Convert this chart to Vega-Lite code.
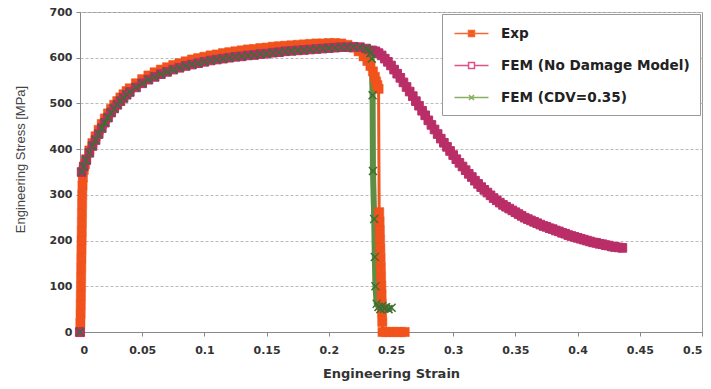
{
"$schema": "https://vega.github.io/schema/vega-lite/v6.json",
"width": 622, "height": 320,
"autosize": {"type": "none"},
"padding": {"left": 80, "top": 12, "right": 9, "bottom": 57},
"background": "white",
"config": {"font": "Liberation Sans", "view": {"stroke": "#999", "strokeWidth": 1}},
"data": {"values": [
{"s":"Exp","x":0,"y":0},{"s":"Exp","x":0.0003,"y":20},{"s":"Exp","x":0.0005,"y":40},{"s":"Exp","x":0.0006,"y":60},{"s":"Exp","x":0.0007,"y":80},{"s":"Exp","x":0.0008,"y":100},{"s":"Exp","x":0.0009,"y":120},{"s":"Exp","x":0.001,"y":140},{"s":"Exp","x":0.0011,"y":160},{"s":"Exp","x":0.0012,"y":180},{"s":"Exp","x":0.0013,"y":200},{"s":"Exp","x":0.0014,"y":220},{"s":"Exp","x":0.0015,"y":240},{"s":"Exp","x":0.0016,"y":260},{"s":"Exp","x":0.0017,"y":280},{"s":"Exp","x":0.0018,"y":300},{"s":"Exp","x":0.002,"y":320},{"s":"Exp","x":0.0023,"y":338},{"s":"Exp","x":0.003,"y":355},{"s":"Exp","x":0.004,"y":367},{"s":"Exp","x":0.005,"y":378},{"s":"Exp","x":0.0075,"y":397},{"s":"Exp","x":0.01,"y":413},{"s":"Exp","x":0.0125,"y":428},{"s":"Exp","x":0.015,"y":442},{"s":"Exp","x":0.0175,"y":455},{"s":"Exp","x":0.02,"y":467},{"s":"Exp","x":0.0225,"y":478},{"s":"Exp","x":0.025,"y":488},{"s":"Exp","x":0.0275,"y":497},{"s":"Exp","x":0.03,"y":505},{"s":"Exp","x":0.0325,"y":513},{"s":"Exp","x":0.035,"y":520},{"s":"Exp","x":0.0375,"y":527},{"s":"Exp","x":0.04,"y":533},{"s":"Exp","x":0.045,"y":544},{"s":"Exp","x":0.05,"y":553},{"s":"Exp","x":0.055,"y":561},{"s":"Exp","x":0.06,"y":568},{"s":"Exp","x":0.065,"y":574},{"s":"Exp","x":0.07,"y":579},{"s":"Exp","x":0.075,"y":584},{"s":"Exp","x":0.08,"y":588},{"s":"Exp","x":0.085,"y":592},{"s":"Exp","x":0.09,"y":596},{"s":"Exp","x":0.095,"y":599},{"s":"Exp","x":0.1,"y":602},{"s":"Exp","x":0.105,"y":605},{"s":"Exp","x":0.11,"y":607},{"s":"Exp","x":0.115,"y":610},{"s":"Exp","x":0.12,"y":612},{"s":"Exp","x":0.125,"y":614},{"s":"Exp","x":0.13,"y":616},{"s":"Exp","x":0.135,"y":618},{"s":"Exp","x":0.14,"y":619},{"s":"Exp","x":0.145,"y":621},{"s":"Exp","x":0.15,"y":622},{"s":"Exp","x":0.155,"y":624},{"s":"Exp","x":0.16,"y":625},{"s":"Exp","x":0.165,"y":626},{"s":"Exp","x":0.17,"y":627},{"s":"Exp","x":0.175,"y":628},{"s":"Exp","x":0.18,"y":629},{"s":"Exp","x":0.185,"y":630},{"s":"Exp","x":0.19,"y":631},{"s":"Exp","x":0.195,"y":631},{"s":"Exp","x":0.2,"y":632},{"s":"Exp","x":0.205,"y":632},{"s":"Exp","x":0.21,"y":631},{"s":"Exp","x":0.215,"y":628},{"s":"Exp","x":0.22,"y":622},{"s":"Exp","x":0.224,"y":614},{"s":"Exp","x":0.228,"y":603},{"s":"Exp","x":0.231,"y":593},{"s":"Exp","x":0.2335,"y":582},{"s":"Exp","x":0.2355,"y":570},{"s":"Exp","x":0.237,"y":558},{"s":"Exp","x":0.238,"y":548},{"s":"Exp","x":0.239,"y":540},{"s":"Exp","x":0.24,"y":532},{"s":"Exp","x":0.2405,"y":262},{"s":"Exp","x":0.2408,"y":242},{"s":"Exp","x":0.241,"y":222},{"s":"Exp","x":0.2412,"y":202},{"s":"Exp","x":0.2414,"y":182},{"s":"Exp","x":0.2416,"y":162},{"s":"Exp","x":0.2418,"y":142},{"s":"Exp","x":0.242,"y":122},{"s":"Exp","x":0.2422,"y":102},{"s":"Exp","x":0.2424,"y":82},{"s":"Exp","x":0.2426,"y":62},{"s":"Exp","x":0.2428,"y":42},{"s":"Exp","x":0.243,"y":22},{"s":"Exp","x":0.2432,"y":0},{"s":"Exp","x":0.246,"y":0},{"s":"Exp","x":0.249,"y":0},{"s":"Exp","x":0.252,"y":0},{"s":"Exp","x":0.255,"y":0},{"s":"Exp","x":0.258,"y":0},{"s":"Exp","x":0.261,"y":0},
{"s":"FEM (No Damage Model)","x":0,"y":0},{"s":"FEM (No Damage Model)","x":0.0013,"y":350},{"s":"FEM (No Damage Model)","x":0.003,"y":362},{"s":"FEM (No Damage Model)","x":0.005,"y":376},{"s":"FEM (No Damage Model)","x":0.0075,"y":392},{"s":"FEM (No Damage Model)","x":0.01,"y":407},{"s":"FEM (No Damage Model)","x":0.0125,"y":420},{"s":"FEM (No Damage Model)","x":0.015,"y":433},{"s":"FEM (No Damage Model)","x":0.0175,"y":446},{"s":"FEM (No Damage Model)","x":0.02,"y":458},{"s":"FEM (No Damage Model)","x":0.0225,"y":469},{"s":"FEM (No Damage Model)","x":0.025,"y":480},{"s":"FEM (No Damage Model)","x":0.0275,"y":489},{"s":"FEM (No Damage Model)","x":0.03,"y":497},{"s":"FEM (No Damage Model)","x":0.0325,"y":505},{"s":"FEM (No Damage Model)","x":0.035,"y":512},{"s":"FEM (No Damage Model)","x":0.0375,"y":519},{"s":"FEM (No Damage Model)","x":0.04,"y":525},{"s":"FEM (No Damage Model)","x":0.045,"y":535},{"s":"FEM (No Damage Model)","x":0.05,"y":544},{"s":"FEM (No Damage Model)","x":0.055,"y":552},{"s":"FEM (No Damage Model)","x":0.06,"y":558},{"s":"FEM (No Damage Model)","x":0.065,"y":564},{"s":"FEM (No Damage Model)","x":0.07,"y":569},{"s":"FEM (No Damage Model)","x":0.075,"y":574},{"s":"FEM (No Damage Model)","x":0.08,"y":578},{"s":"FEM (No Damage Model)","x":0.085,"y":582},{"s":"FEM (No Damage Model)","x":0.09,"y":585},{"s":"FEM (No Damage Model)","x":0.095,"y":588},{"s":"FEM (No Damage Model)","x":0.1,"y":591},{"s":"FEM (No Damage Model)","x":0.105,"y":594},{"s":"FEM (No Damage Model)","x":0.11,"y":596},{"s":"FEM (No Damage Model)","x":0.115,"y":598},{"s":"FEM (No Damage Model)","x":0.12,"y":600},{"s":"FEM (No Damage Model)","x":0.125,"y":602},{"s":"FEM (No Damage Model)","x":0.13,"y":603},{"s":"FEM (No Damage Model)","x":0.135,"y":605},{"s":"FEM (No Damage Model)","x":0.14,"y":606},{"s":"FEM (No Damage Model)","x":0.145,"y":608},{"s":"FEM (No Damage Model)","x":0.15,"y":609},{"s":"FEM (No Damage Model)","x":0.155,"y":611},{"s":"FEM (No Damage Model)","x":0.16,"y":612},{"s":"FEM (No Damage Model)","x":0.165,"y":614},{"s":"FEM (No Damage Model)","x":0.17,"y":615},{"s":"FEM (No Damage Model)","x":0.175,"y":616},{"s":"FEM (No Damage Model)","x":0.18,"y":617},{"s":"FEM (No Damage Model)","x":0.185,"y":618},{"s":"FEM (No Damage Model)","x":0.19,"y":619},{"s":"FEM (No Damage Model)","x":0.195,"y":620},{"s":"FEM (No Damage Model)","x":0.2,"y":621},{"s":"FEM (No Damage Model)","x":0.205,"y":622},{"s":"FEM (No Damage Model)","x":0.21,"y":623},{"s":"FEM (No Damage Model)","x":0.215,"y":623},{"s":"FEM (No Damage Model)","x":0.22,"y":624},{"s":"FEM (No Damage Model)","x":0.225,"y":623},{"s":"FEM (No Damage Model)","x":0.23,"y":620},{"s":"FEM (No Damage Model)","x":0.235,"y":616},{"s":"FEM (No Damage Model)","x":0.2375,"y":614},{"s":"FEM (No Damage Model)","x":0.24,"y":610},{"s":"FEM (No Damage Model)","x":0.2425,"y":605},{"s":"FEM (No Damage Model)","x":0.245,"y":598},{"s":"FEM (No Damage Model)","x":0.2475,"y":591},{"s":"FEM (No Damage Model)","x":0.25,"y":583},{"s":"FEM (No Damage Model)","x":0.2525,"y":574},{"s":"FEM (No Damage Model)","x":0.255,"y":565},{"s":"FEM (No Damage Model)","x":0.2575,"y":556},{"s":"FEM (No Damage Model)","x":0.26,"y":546},{"s":"FEM (No Damage Model)","x":0.2625,"y":536},{"s":"FEM (No Damage Model)","x":0.265,"y":526},{"s":"FEM (No Damage Model)","x":0.2675,"y":516},{"s":"FEM (No Damage Model)","x":0.27,"y":505},{"s":"FEM (No Damage Model)","x":0.2725,"y":495},{"s":"FEM (No Damage Model)","x":0.275,"y":484},{"s":"FEM (No Damage Model)","x":0.2775,"y":474},{"s":"FEM (No Damage Model)","x":0.28,"y":463},{"s":"FEM (No Damage Model)","x":0.2825,"y":453},{"s":"FEM (No Damage Model)","x":0.285,"y":443},{"s":"FEM (No Damage Model)","x":0.2875,"y":433},{"s":"FEM (No Damage Model)","x":0.29,"y":423},{"s":"FEM (No Damage Model)","x":0.2925,"y":414},{"s":"FEM (No Damage Model)","x":0.295,"y":405},{"s":"FEM (No Damage Model)","x":0.2975,"y":396},{"s":"FEM (No Damage Model)","x":0.3,"y":387},{"s":"FEM (No Damage Model)","x":0.3025,"y":378},{"s":"FEM (No Damage Model)","x":0.305,"y":370},{"s":"FEM (No Damage Model)","x":0.3075,"y":362},{"s":"FEM (No Damage Model)","x":0.31,"y":354},{"s":"FEM (No Damage Model)","x":0.3125,"y":346},{"s":"FEM (No Damage Model)","x":0.315,"y":339},{"s":"FEM (No Damage Model)","x":0.3175,"y":331},{"s":"FEM (No Damage Model)","x":0.32,"y":324},{"s":"FEM (No Damage Model)","x":0.3225,"y":317},{"s":"FEM (No Damage Model)","x":0.325,"y":311},{"s":"FEM (No Damage Model)","x":0.3275,"y":305},{"s":"FEM (No Damage Model)","x":0.33,"y":299},{"s":"FEM (No Damage Model)","x":0.3325,"y":293},{"s":"FEM (No Damage Model)","x":0.335,"y":288},{"s":"FEM (No Damage Model)","x":0.3375,"y":283},{"s":"FEM (No Damage Model)","x":0.34,"y":278},{"s":"FEM (No Damage Model)","x":0.3425,"y":274},{"s":"FEM (No Damage Model)","x":0.345,"y":270},{"s":"FEM (No Damage Model)","x":0.3475,"y":266},{"s":"FEM (No Damage Model)","x":0.35,"y":262},{"s":"FEM (No Damage Model)","x":0.3525,"y":258},{"s":"FEM (No Damage Model)","x":0.355,"y":254},{"s":"FEM (No Damage Model)","x":0.3575,"y":250},{"s":"FEM (No Damage Model)","x":0.36,"y":247},{"s":"FEM (No Damage Model)","x":0.3625,"y":244},{"s":"FEM (No Damage Model)","x":0.365,"y":241},{"s":"FEM (No Damage Model)","x":0.3675,"y":238},{"s":"FEM (No Damage Model)","x":0.37,"y":235},{"s":"FEM (No Damage Model)","x":0.3725,"y":232},{"s":"FEM (No Damage Model)","x":0.375,"y":230},{"s":"FEM (No Damage Model)","x":0.3775,"y":227},{"s":"FEM (No Damage Model)","x":0.38,"y":225},{"s":"FEM (No Damage Model)","x":0.3825,"y":222},{"s":"FEM (No Damage Model)","x":0.385,"y":220},{"s":"FEM (No Damage Model)","x":0.3875,"y":217},{"s":"FEM (No Damage Model)","x":0.39,"y":215},{"s":"FEM (No Damage Model)","x":0.3925,"y":212},{"s":"FEM (No Damage Model)","x":0.395,"y":210},{"s":"FEM (No Damage Model)","x":0.3975,"y":208},{"s":"FEM (No Damage Model)","x":0.4,"y":206},{"s":"FEM (No Damage Model)","x":0.4025,"y":204},{"s":"FEM (No Damage Model)","x":0.405,"y":202},{"s":"FEM (No Damage Model)","x":0.4075,"y":200},{"s":"FEM (No Damage Model)","x":0.41,"y":198},{"s":"FEM (No Damage Model)","x":0.4125,"y":196},{"s":"FEM (No Damage Model)","x":0.415,"y":195},{"s":"FEM (No Damage Model)","x":0.4175,"y":193},{"s":"FEM (No Damage Model)","x":0.42,"y":192},{"s":"FEM (No Damage Model)","x":0.4225,"y":190},{"s":"FEM (No Damage Model)","x":0.425,"y":189},{"s":"FEM (No Damage Model)","x":0.4275,"y":187},{"s":"FEM (No Damage Model)","x":0.43,"y":186},{"s":"FEM (No Damage Model)","x":0.433,"y":185},{"s":"FEM (No Damage Model)","x":0.436,"y":184},
{"s":"FEM (CDV=0.35)","x":0,"y":0},{"s":"FEM (CDV=0.35)","x":0.0013,"y":350},{"s":"FEM (CDV=0.35)","x":0.003,"y":362},{"s":"FEM (CDV=0.35)","x":0.005,"y":376},{"s":"FEM (CDV=0.35)","x":0.0075,"y":392},{"s":"FEM (CDV=0.35)","x":0.01,"y":407},{"s":"FEM (CDV=0.35)","x":0.0125,"y":420},{"s":"FEM (CDV=0.35)","x":0.015,"y":433},{"s":"FEM (CDV=0.35)","x":0.0175,"y":446},{"s":"FEM (CDV=0.35)","x":0.02,"y":458},{"s":"FEM (CDV=0.35)","x":0.0225,"y":469},{"s":"FEM (CDV=0.35)","x":0.025,"y":480},{"s":"FEM (CDV=0.35)","x":0.0275,"y":489},{"s":"FEM (CDV=0.35)","x":0.03,"y":497},{"s":"FEM (CDV=0.35)","x":0.0325,"y":505},{"s":"FEM (CDV=0.35)","x":0.035,"y":512},{"s":"FEM (CDV=0.35)","x":0.0375,"y":519},{"s":"FEM (CDV=0.35)","x":0.04,"y":525},{"s":"FEM (CDV=0.35)","x":0.045,"y":535},{"s":"FEM (CDV=0.35)","x":0.05,"y":544},{"s":"FEM (CDV=0.35)","x":0.055,"y":552},{"s":"FEM (CDV=0.35)","x":0.06,"y":558},{"s":"FEM (CDV=0.35)","x":0.065,"y":564},{"s":"FEM (CDV=0.35)","x":0.07,"y":569},{"s":"FEM (CDV=0.35)","x":0.075,"y":574},{"s":"FEM (CDV=0.35)","x":0.08,"y":578},{"s":"FEM (CDV=0.35)","x":0.085,"y":582},{"s":"FEM (CDV=0.35)","x":0.09,"y":585},{"s":"FEM (CDV=0.35)","x":0.095,"y":588},{"s":"FEM (CDV=0.35)","x":0.1,"y":591},{"s":"FEM (CDV=0.35)","x":0.105,"y":594},{"s":"FEM (CDV=0.35)","x":0.11,"y":596},{"s":"FEM (CDV=0.35)","x":0.115,"y":598},{"s":"FEM (CDV=0.35)","x":0.12,"y":600},{"s":"FEM (CDV=0.35)","x":0.125,"y":602},{"s":"FEM (CDV=0.35)","x":0.13,"y":603},{"s":"FEM (CDV=0.35)","x":0.135,"y":605},{"s":"FEM (CDV=0.35)","x":0.14,"y":606},{"s":"FEM (CDV=0.35)","x":0.145,"y":608},{"s":"FEM (CDV=0.35)","x":0.15,"y":609},{"s":"FEM (CDV=0.35)","x":0.155,"y":611},{"s":"FEM (CDV=0.35)","x":0.16,"y":612},{"s":"FEM (CDV=0.35)","x":0.165,"y":614},{"s":"FEM (CDV=0.35)","x":0.17,"y":615},{"s":"FEM (CDV=0.35)","x":0.175,"y":616},{"s":"FEM (CDV=0.35)","x":0.18,"y":617},{"s":"FEM (CDV=0.35)","x":0.185,"y":618},{"s":"FEM (CDV=0.35)","x":0.19,"y":619},{"s":"FEM (CDV=0.35)","x":0.195,"y":620},{"s":"FEM (CDV=0.35)","x":0.2,"y":621},{"s":"FEM (CDV=0.35)","x":0.205,"y":622},{"s":"FEM (CDV=0.35)","x":0.21,"y":623},{"s":"FEM (CDV=0.35)","x":0.215,"y":623},{"s":"FEM (CDV=0.35)","x":0.22,"y":624},{"s":"FEM (CDV=0.35)","x":0.225,"y":623},{"s":"FEM (CDV=0.35)","x":0.23,"y":620},{"s":"FEM (CDV=0.35)","x":0.232,"y":617},{"s":"FEM (CDV=0.35)","x":0.2335,"y":610},{"s":"FEM (CDV=0.35)","x":0.2345,"y":598},{"s":"FEM (CDV=0.35)","x":0.2352,"y":518},{"s":"FEM (CDV=0.35)","x":0.2355,"y":352},{"s":"FEM (CDV=0.35)","x":0.2365,"y":247},{"s":"FEM (CDV=0.35)","x":0.237,"y":164},{"s":"FEM (CDV=0.35)","x":0.2375,"y":100},{"s":"FEM (CDV=0.35)","x":0.2385,"y":62},{"s":"FEM (CDV=0.35)","x":0.24,"y":55},{"s":"FEM (CDV=0.35)","x":0.2415,"y":50},{"s":"FEM (CDV=0.35)","x":0.243,"y":57},{"s":"FEM (CDV=0.35)","x":0.2445,"y":51},{"s":"FEM (CDV=0.35)","x":0.246,"y":54},{"s":"FEM (CDV=0.35)","x":0.248,"y":50},{"s":"FEM (CDV=0.35)","x":0.2505,"y":53}
]},
"encoding": {
  "x": {"field": "x", "type": "quantitative",
    "scale": {"domain": [0, 0.5], "nice": false, "zero": false},
    "axis": {"title": "Engineering Strain", "values": [0,0.05,0.1,0.15,0.2,0.25,0.3,0.35,0.4,0.45,0.5], "format": ".2~f", "grid": false,
      "domainColor": "#888", "tickColor": "#888", "tickSize": 4, "labelFont": "DejaVu Sans", "labelFontSize": 11, "labelFontWeight": "bold", "labelColor": "#333", "labelPadding": 8,
      "titleFont": "DejaVu Sans", "titleFontSize": 13, "titleFontWeight": "bold", "titleColor": "#333", "titlePadding": 12}},
  "y": {"field": "y", "type": "quantitative",
    "scale": {"domain": [0, 700], "nice": false},
    "axis": {"title": "Engineering Stress [MPa]", "values": [0,100,200,300,400,500,600,700], "grid": true, "gridDash": [3,2], "gridColor": "#bbb",
      "domainColor": "#888", "tickColor": "#888", "tickSize": 4, "labelFont": "DejaVu Sans", "labelFontSize": 11, "labelFontWeight": "bold", "labelColor": "#333", "labelPadding": 4,
      "titleFont": "Liberation Sans", "titleFontSize": 13, "titleFontWeight": "normal", "titleColor": "#444", "titlePadding": 22, "titleY": 147}}
},
"layer": [
  {"mark": {"type": "line"},
   "encoding": {
     "color": {"field": "s", "type": "nominal", "legend": null,
       "scale": {"domain": ["Exp", "FEM (No Damage Model)", "FEM (CDV=0.35)"], "range": ["#F2581E", "#BA2E68", "#5E8E44"]}},
     "strokeWidth": {"field": "s", "type": "nominal", "legend": null,
       "scale": {"domain": ["Exp", "FEM (No Damage Model)", "FEM (CDV=0.35)"], "range": [3, 6, 1.6]}},
     "order": {"value": null}}},
  {"mark": {"type": "point", "opacity": 1},
   "encoding": {
     "fill": {"field": "s", "type": "nominal", "legend": null,
       "scale": {"domain": ["Exp", "FEM (No Damage Model)", "FEM (CDV=0.35)"], "range": ["#F2521C", "#BA2E68", "transparent"]}},
     "stroke": {"field": "s", "type": "nominal", "legend": null,
       "scale": {"domain": ["Exp", "FEM (No Damage Model)", "FEM (CDV=0.35)"], "range": ["#F2521C", "#BA2E68", "#3C6F32"]}},
     "shape": {"field": "s", "type": "nominal", "legend": null,
       "scale": {"domain": ["Exp", "FEM (No Damage Model)", "FEM (CDV=0.35)"], "range": ["square", "square", "M-1,-1L1,1M-1,1L1,-1"]}},
     "size": {"field": "s", "type": "nominal", "legend": null,
       "scale": {"domain": ["Exp", "FEM (No Damage Model)", "FEM (CDV=0.35)"], "range": [85, 64, 115]}},
     "strokeWidth": {"field": "s", "type": "nominal", "legend": null,
       "scale": {"domain": ["Exp", "FEM (No Damage Model)", "FEM (CDV=0.35)"], "range": [0.5, 1.5, 2.8]}}}},
  {"transform": [{"filter": "false"}],
   "mark": {"type": "point", "filled": true, "opacity": 1},
   "encoding": {
     "fill": {"field": "s", "type": "nominal",
       "scale": {"domain": ["Exp", "FEM (No Damage Model)", "FEM (CDV=0.35)"], "range": ["#F2521C", "white", "transparent"]},
       "legend": {"title": null, "orient": "top-right", "offset": 2, "padding": 10, "strokeColor": "#999", "fillColor": "white", "labelFont": "DejaVu Sans", "labelFontSize": 13.6, "labelFontWeight": "bold", "labelColor": "#222", "symbolSize": 289, "symbolStrokeWidth": 1.5, "symbolOffset": 10, "rowPadding": 15, "labelOffset": 20, "labelLimit": 300}},
     "stroke": {"field": "s", "type": "nominal",
       "scale": {"domain": ["Exp", "FEM (No Damage Model)", "FEM (CDV=0.35)"], "range": ["#F26A30", "#E0508A", "#8AB062"]},
       "legend": {"title": null, "orient": "top-right", "offset": 2, "padding": 10, "strokeColor": "#999", "fillColor": "white", "labelFont": "DejaVu Sans", "labelFontSize": 13.6, "labelFontWeight": "bold", "labelColor": "#222", "symbolSize": 289, "symbolStrokeWidth": 1.5, "symbolOffset": 10, "rowPadding": 15, "labelOffset": 20, "labelLimit": 300}},
     "shape": {"field": "s", "type": "nominal",
       "scale": {"domain": ["Exp", "FEM (No Damage Model)", "FEM (CDV=0.35)"], "range": ["M-2,0H2M-0.35,-0.35H0.35V0.35H-0.35Z", "M-2,0H-0.35M0.35,0H2M-0.35,-0.35H0.35V0.35H-0.35Z", "M-2,0H2M-0.3,-0.3L0.3,0.3M-0.3,0.3L0.3,-0.3"]},
       "legend": {"title": null, "orient": "top-right", "offset": 2, "padding": 10, "strokeColor": "#999", "fillColor": "white", "labelFont": "DejaVu Sans", "labelFontSize": 13.6, "labelFontWeight": "bold", "labelColor": "#222", "symbolSize": 289, "symbolStrokeWidth": 1.5, "symbolOffset": 10, "rowPadding": 15, "labelOffset": 20, "labelLimit": 300}}}}
],
"resolve": {"scale": {"color": "independent", "fill": "independent", "stroke": "independent", "shape": "independent", "size": "independent", "strokeWidth": "independent"}}
}
